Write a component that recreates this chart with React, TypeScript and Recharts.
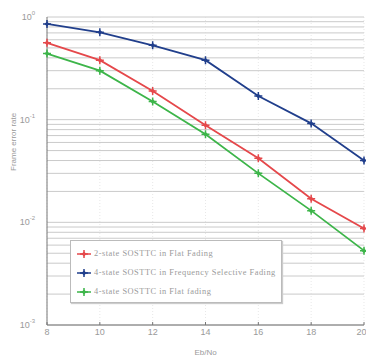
import { LineChart, Line, XAxis, YAxis, CartesianGrid } from 'recharts'

const ebno = [8, 10, 12, 14, 16, 18, 20]
const flat2 = [0.56, 0.38, 0.19, 0.088, 0.042, 0.017, 0.0087]
const freqSel4 = [0.855, 0.71, 0.53, 0.38, 0.17, 0.092, 0.04]
const flat4 = [0.44, 0.3, 0.15, 0.072, 0.03, 0.013, 0.0053]

const xTicks = [8, 10, 12, 14, 16, 18, 20]
const decades = [0.001, 0.01, 0.1, 1]
const yTicks = [
  0.001, 0.002, 0.003, 0.004, 0.005, 0.006, 0.007, 0.008, 0.009,
  0.01, 0.02, 0.03, 0.04, 0.05, 0.06, 0.07, 0.08, 0.09,
  0.1, 0.2, 0.3, 0.4, 0.5, 0.6, 0.7, 0.8, 0.9, 1,
]

const SERIES = [
  { key: 'flat2', name: '2-state SOSTTC in Flat Fading', color: '#e5484b' },
  { key: 'freqSel4', name: '4-state SOSTTC in Frequency Selective Fading', color: '#213f8c' },
  { key: 'flat4', name: '4-state SOSTTC in Flat fading', color: '#3db54a' },
]

const data = ebno.map((x, i) => ({
  x,
  flat2: flat2[i],
  freqSel4: freqSel4[i],
  flat4: flat4[i],
}))

const GREY = '#9a9a9a'

function PlusDot(props: any) {
  const { cx, cy, stroke } = props
  if (cx == null || cy == null) return null
  return (
    <g>
      <path d={`M${cx - 4},${cy}H${cx + 4}M${cx},${cy - 4}V${cy + 4}`} stroke={stroke} strokeWidth={1.5} />
      <path d={`M${cx},${cy - 2.5}L${cx + 2.5},${cy}L${cx},${cy + 2.5}L${cx - 2.5},${cy}Z`} fill={stroke} />
    </g>
  )
}

function YTick(props: any) {
  const { x, y, payload } = props
  if (!decades.includes(payload.value)) return null
  const exp = Math.round(Math.log10(payload.value))
  return (
    <text x={x - 4} y={y + 3} textAnchor="end" fill={GREY} fontSize={9}>
      10
      <tspan dy={-5} fontSize={6}>{exp}</tspan>
    </text>
  )
}

function LegendBox() {
  return (
    <div
      style={{
        position: 'absolute',
        left: 70,
        top: 240,
        boxSizing: 'border-box',
        height: 63,
        width: 212,
        background: '#fff',
        border: '1px solid #bbb',
        boxShadow: '1px 1px 1px #ccc',
        padding: '3px 0 0 5px',
        fontSize: 8.4,
        letterSpacing: 0.5,
        fontFamily: 'Liberation Serif, serif',
        color: GREY,
      }}
    >
      {SERIES.map((s) => (
        <div key={s.key} style={{ display: 'flex', alignItems: 'center', height: 19 }}>
          <svg width={16} height={10}>
            <line x1={1} y1={5} x2={15} y2={5} stroke={s.color} strokeWidth={1.5} />
            <PlusDot cx={8} cy={5} stroke={s.color} />
          </svg>
          <span style={{ marginLeft: 2, whiteSpace: 'nowrap' }}>{s.name}</span>
        </div>
      ))}
    </div>
  )
}

export default function App() {
  return (
    <div style={{ position: 'absolute', left: 0, top: 0, fontFamily: 'Liberation Sans, sans-serif' }}>
      <LineChart width={366} height={357} data={data} margin={{ top: 17, right: 2, left: 0, bottom: 0 }}>
        <CartesianGrid vertical={false} stroke="#bdbdbd" strokeWidth={0.8} />
        <CartesianGrid horizontal={false} stroke="#d8d8d8" strokeWidth={0.6} strokeDasharray="1 2" />
        <XAxis
          dataKey="x"
          type="number"
          domain={[8, 20]}
          ticks={xTicks}
          tick={{ fill: GREY, fontSize: 9 }}
          tickSize={-3}
          tickMargin={7}
          axisLine={{ stroke: '#777' }}
          tickLine={{ stroke: '#777' }}
          height={32}
          label={{ value: 'Eb/No', position: 'insideBottom', offset: 2, fill: GREY, fontSize: 8 }}
        />
        <XAxis
          xAxisId="top"
          orientation="top"
          dataKey="x"
          type="number"
          domain={[8, 20]}
          ticks={xTicks}
          tick={false}
          tickSize={-3}
          axisLine={{ stroke: '#777' }}
          tickLine={{ stroke: '#777' }}
          height={0}
        />
        <YAxis
          scale="log"
          domain={[0.001, 1]}
          ticks={yTicks}
          interval={0}
          tick={<YTick />}
          tickLine={false}
          axisLine={{ stroke: '#777' }}
          width={47}
          allowDataOverflow
          label={{ value: 'Frame error rate', angle: -90, position: 'insideLeft', offset: 13, fill: GREY, fontSize: 8 }}
        />
        <YAxis
          yAxisId="right"
          orientation="right"
          scale="log"
          domain={[0.001, 1]}
          tick={false}
          tickLine={false}
          axisLine={{ stroke: '#777' }}
          width={0}
        />
        {SERIES.map((s) => (
          <Line
            key={s.key}
            dataKey={s.key}
            name={s.name}
            stroke={s.color}
            strokeWidth={1.8}
            dot={<PlusDot />}
            isAnimationActive={false}
          />
        ))}
      </LineChart>
      <LegendBox />
    </div>
  )
}
